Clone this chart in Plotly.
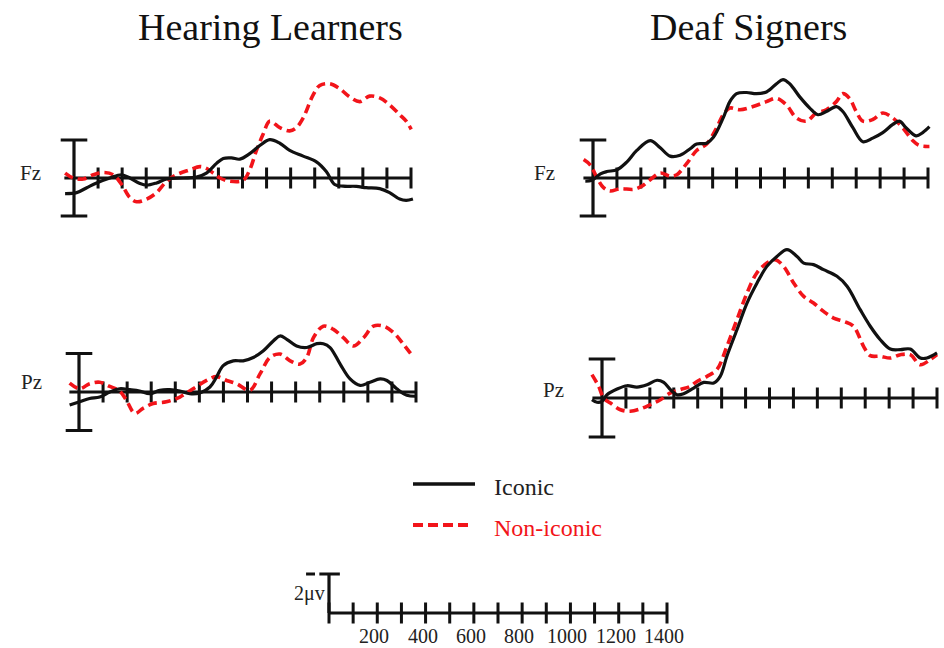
import plotly.graph_objects as go

# ---------------- waveform data: time (ms) and amplitude (µV) ----------------
# Hearing learners, Fz
HEAR_FZ_ICONIC_T = [-37, 11, 53, 94, 149, 198, 232, 274, 302, 343, 385, 454, 509, 550, 592, 620, 654, 689,
                    730, 772, 813, 855, 896, 952, 1007, 1048, 1083, 1118, 1173, 1214, 1270, 1311, 1353, 1380, 1408]
HEAR_FZ_ICONIC_V = [-0.82, -0.77, -0.51, -0.26, 0.0, 0.17, 0.0, -0.29, -0.38, -0.26, -0.05, 0.0, 0.05, 0.26,
                    0.77, 1.03, 1.06, 0.99, 1.28, 1.71, 2.02, 1.83, 1.45, 1.15, 0.85, 0.34, -0.34, -0.43, -0.44,
                    -0.51, -0.56, -0.77, -1.11, -1.18, -1.11]
HEAR_FZ_NONICONIC_T = [-37, -3, 39, 80, 122, 163, 198, 232, 260, 302, 343, 385, 426, 481, 523, 550, 578, 606,
                       647, 703, 730, 758, 786, 813, 855, 896, 924, 952, 993, 1021, 1062, 1104, 1145, 1187,
                       1228, 1270, 1311, 1353, 1380, 1401]
HEAR_FZ_NONICONIC_V = [0.26, 0.0, -0.05, 0.17, 0.29, 0.17, -0.34, -1.03, -1.25, -1.11, -0.77, -0.17, 0.17,
                       0.43, 0.60, 0.51, 0.26, 0.0, -0.17, -0.12, 0.43, 1.45, 2.31, 2.99, 2.65, 2.48, 2.65,
                       3.16, 4.36, 4.87, 4.96, 4.70, 4.27, 4.02, 4.31, 4.22, 3.85, 3.33, 2.99, 2.56]

# Deaf signers, Fz
DEAF_FZ_ICONIC_T = [-32, -4, 31, 58, 100, 142, 183, 239, 281, 322, 364, 406, 433, 475, 503, 544, 572, 600,
                    642, 683, 725, 767, 794, 822, 864, 906, 940, 975, 1017, 1044, 1086, 1128, 1169, 1211,
                    1253, 1281, 1308, 1350, 1378, 1406]
DEAF_FZ_ICONIC_V = [-0.17, -0.12, 0.22, 0.34, 0.43, 0.85, 1.45, 1.97, 1.59, 1.15, 1.20, 1.54, 1.79, 1.83,
                    2.14, 3.16, 4.02, 4.44, 4.50, 4.44, 4.53, 4.96, 5.18, 4.96, 4.27, 3.68, 3.33, 3.50, 3.76,
                    3.50, 2.65, 1.91, 2.10, 2.39, 2.82, 2.99, 2.65, 2.22, 2.39, 2.70]
DEAF_FZ_NONICONIC_T = [-39, -11, 17, 44, 72, 114, 169, 204, 239, 281, 322, 350, 392, 433, 475, 517, 544, 572,
                       614, 669, 725, 767, 808, 850, 892, 933, 975, 1017, 1044, 1072, 1100, 1128, 1169, 1211,
                       1253, 1294, 1336, 1364, 1406]
DEAF_FZ_NONICONIC_V = [0.97, 0.68, 0.0, -0.51, -0.68, -0.56, -0.60, -0.43, -0.09, 0.26, 0.09, 0.17, 0.77,
                       1.45, 1.79, 2.65, 3.33, 3.68, 3.59, 3.76, 4.02, 4.19, 3.85, 3.16, 2.99, 3.42, 3.59,
                       4.02, 4.44, 4.19, 3.50, 2.99, 3.08, 3.42, 3.16, 2.65, 1.97, 1.71, 1.66]

# Hearing learners, Pz
HEAR_PZ_ICONIC_T = [-39, 3, 44, 86, 128, 169, 211, 252, 294, 336, 377, 419, 460, 502, 544, 571, 599, 641,
                    682, 724, 766, 807, 835, 863, 904, 946, 988, 1015, 1043, 1085, 1126, 1168, 1209, 1251,
                    1279, 1320, 1362, 1401]
HEAR_PZ_ICONIC_V = [-0.68, -0.51, -0.34, -0.26, 0.0, 0.17, 0.12, 0.05, -0.09, 0.09, 0.12, 0.05, -0.09,
                    -0.05, 0.26, 0.77, 1.37, 1.62, 1.62, 1.79, 2.14, 2.65, 2.91, 2.74, 2.39, 2.31, 2.51,
                    2.51, 2.31, 1.45, 0.68, 0.34, 0.51, 0.68, 0.60, 0.17, -0.17, -0.22]
HEAR_PZ_NONICONIC_T = [-39, 3, 44, 86, 128, 169, 197, 232, 266, 308, 363, 419, 474, 530, 571, 613, 655, 710,
                       752, 793, 835, 877, 918, 946, 974, 1015, 1057, 1098, 1140, 1182, 1223, 1265, 1307,
                       1348, 1390]
HEAR_PZ_NONICONIC_V = [0.46, 0.17, 0.43, 0.51, 0.29, 0.05, -0.43, -1.11, -0.85, -0.60, -0.51, -0.26, 0.17,
                       0.60, 0.80, 0.60, 0.43, 0.09, 0.94, 1.79, 1.97, 1.62, 1.45, 1.79, 2.82, 3.42, 3.25,
                       2.82, 2.39, 2.82, 3.42, 3.42, 3.08, 2.48, 1.79]

# Deaf signers, Pz
DEAF_PZ_ICONIC_T = [-42, -21, 0, 21, 63, 104, 146, 188, 230, 258, 286, 313, 341, 383, 425, 467, 494, 522,
                    564, 606, 648, 689, 731, 773, 815, 843, 884, 926, 982, 1024, 1079, 1121, 1163, 1205,
                    1247, 1288, 1330, 1358, 1400]
DEAF_PZ_ICONIC_V = [-0.09, -0.22, -0.17, 0.17, 0.46, 0.63, 0.56, 0.68, 0.91, 0.80, 0.43, 0.17, 0.22, 0.51,
                    0.80, 0.77, 1.11, 2.14, 3.50, 4.87, 5.90, 6.75, 7.26, 7.61, 7.26, 6.92, 6.84, 6.58,
                    6.24, 5.73, 4.53, 3.68, 2.99, 2.51, 2.48, 2.51, 2.05, 2.05, 2.31]
DEAF_PZ_NONICONIC_T = [-42, -14, 7, 35, 77, 118, 160, 202, 244, 286, 327, 369, 397, 439, 480, 522, 564, 606,
                       647, 689, 724, 759, 801, 843, 884, 926, 968, 1010, 1051, 1093, 1121, 1163, 1205,
                       1247, 1288, 1330, 1372, 1400]
DEAF_PZ_NONICONIC_V = [1.20, 0.60, 0.0, -0.26, -0.60, -0.68, -0.56, -0.34, -0.09, 0.26, 0.43, 0.60, 0.85,
                       1.11, 1.45, 2.65, 4.02, 5.38, 6.41, 6.92, 7.09, 6.75, 5.90, 5.21, 4.87, 4.44, 4.10,
                       3.93, 3.68, 2.65, 2.17, 2.14, 2.05, 2.22, 2.22, 1.71, 1.97, 2.22]

# axis furniture
TICK_MS = list(range(0, 1401, 100))
SCALE_LABEL_MS = [200, 400, 600, 800, 1000, 1200, 1400]
SCALE_UV = 2
GROUP_TITLES = ["Hearing Learners", "Deaf Signers"]
CONDITIONS = ["Iconic", "Non-iconic"]

# ---------------- page geometry (pixels) ----------------
W, H = 944, 648
SERIF = "Liberation Serif, Times New Roman, serif"
BLACK = "#111111"
RED = "#f2141a"


def domains(origin, end, base, px_per_uv, xr, yr):
    k = (end - origin) / 1400.0
    x0 = (origin + xr[0] * k) / W
    x1 = (origin + xr[1] * k) / W
    ytop = base - yr[1] * px_per_uv
    ybot = base - yr[0] * px_per_uv
    return [x0, x1], [1 - ybot / H, 1 - ytop / H]


# each panel: axis suffix, data, origin px, 1400-ms px, baseline px, px per µV, y range, electrode label
panels = [
    ("", HEAR_FZ_ICONIC_T, HEAR_FZ_ICONIC_V, HEAR_FZ_NONICONIC_T, HEAR_FZ_NONICONIC_V,
     74, 411, 178, 19.0, (-2.6, 5.6), "Fz", (30, 173)),
    ("2", DEAF_FZ_ICONIC_T, DEAF_FZ_ICONIC_V, DEAF_FZ_NONICONIC_T, DEAF_FZ_NONICONIC_V,
     593, 928, 178, 19.0, (-2.6, 5.8), "Fz", (544, 173)),
    ("3", HEAR_PZ_ICONIC_T, HEAR_PZ_ICONIC_V, HEAR_PZ_NONICONIC_T, HEAR_PZ_NONICONIC_V,
     79, 416, 392, 19.25, (-2.6, 4.2), "Pz", (31, 382)),
    ("4", DEAF_PZ_ICONIC_T, DEAF_PZ_ICONIC_V, DEAF_PZ_NONICONIC_T, DEAF_PZ_NONICONIC_V,
     602, 937, 398, 19.5, (-2.5, 8.0), "Pz", (553, 390)),
]

fig = go.Figure()
layout_axes = {}
annotations = []
XR = (-60, 1420)

for suf, it, iv, nt, nv, origin, end, base, s, yr, elec, lab in panels:
    xd, yd = domains(origin, end, base, s, XR, yr)
    xa, ya = "x" + suf, "y" + suf
    layout_axes["xaxis" + suf] = dict(domain=xd, range=list(XR), visible=False, fixedrange=True)
    layout_axes["yaxis" + suf] = dict(domain=yd, range=list(yr), visible=False, fixedrange=True)

    # baseline with tick marks crossing it
    fig.add_trace(go.Scatter(x=[-40, 1400], y=[0, 0], mode="lines", xaxis=xa, yaxis=ya,
                             line=dict(color=BLACK, width=3.2), showlegend=False, hoverinfo="skip"))
    fig.add_trace(go.Scatter(x=TICK_MS[1:], y=[0] * (len(TICK_MS) - 1), mode="markers", xaxis=xa, yaxis=ya,
                             marker=dict(symbol="line-ns", size=15, line=dict(color=BLACK, width=3)),
                             showlegend=False, hoverinfo="skip"))
    # amplitude bar (±2 µV) with end caps
    fig.add_trace(go.Scatter(x=[0, 0], y=[-2, 2], mode="lines+markers", xaxis=xa, yaxis=ya,
                             line=dict(color=BLACK, width=3.2),
                             marker=dict(symbol="line-ew", size=19, line=dict(color=BLACK, width=3)),
                             showlegend=False, hoverinfo="skip"))
    # waveforms
    fig.add_trace(go.Scatter(x=nt, y=nv, mode="lines", xaxis=xa, yaxis=ya, name=CONDITIONS[1],
                             line=dict(color=RED, width=3.6, dash="9px,5px", shape="spline", smoothing=1.0),
                             showlegend=False))
    fig.add_trace(go.Scatter(x=it, y=iv, mode="lines", xaxis=xa, yaxis=ya, name=CONDITIONS[0],
                             line=dict(color=BLACK, width=3.2, shape="spline", smoothing=1.0),
                             showlegend=False))
    annotations.append(dict(text=elec, x=lab[0] / W, y=1 - lab[1] / H, xref="paper", yref="paper",
                            showarrow=False, xanchor="center", yanchor="middle",
                            font=dict(family=SERIF, size=21, color="#222222")))

# ---------------- calibration bar ----------------
SXR = (-110, 1420)
xd, yd = domains(329, 667, 613, 19.5, SXR, (-1.0, 2.6))
layout_axes["xaxis5"] = dict(domain=xd, range=list(SXR), visible=False, fixedrange=True)
layout_axes["yaxis5"] = dict(domain=yd, range=[-1.0, 2.6], visible=False, fixedrange=True)
fig.add_trace(go.Scatter(x=[0, 1400], y=[0, 0], mode="lines", xaxis="x5", yaxis="y5",
                         line=dict(color=BLACK, width=3.2), showlegend=False, hoverinfo="skip"))
fig.add_trace(go.Scatter(x=TICK_MS, y=[0] * len(TICK_MS), mode="markers", xaxis="x5", yaxis="y5",
                         marker=dict(symbol="line-ns", size=15, line=dict(color=BLACK, width=3)),
                         showlegend=False, hoverinfo="skip"))
fig.add_trace(go.Scatter(x=[0, 0], y=[0, SCALE_UV], mode="lines", xaxis="x5", yaxis="y5",
                         line=dict(color=BLACK, width=3.2), showlegend=False, hoverinfo="skip"))
fig.add_trace(go.Scatter(x=[-40, 45], y=[SCALE_UV, SCALE_UV], mode="lines", xaxis="x5", yaxis="y5",
                         line=dict(color=BLACK, width=3), showlegend=False, hoverinfo="skip"))
fig.add_trace(go.Scatter(x=[-95, -58], y=[SCALE_UV, SCALE_UV], mode="lines", xaxis="x5", yaxis="y5",
                         line=dict(color=BLACK, width=3), showlegend=False, hoverinfo="skip"))
for ms in SCALE_LABEL_MS:
    annotations.append(dict(text=str(ms), x=ms, y=0, xref="x5", yref="y5", yshift=-23, xshift=-3,
                            showarrow=False, xanchor="center", yanchor="middle",
                            font=dict(family=SERIF, size=20, color="#222222")))
annotations.append(dict(text="2\u03bcv", x=0, y=SCALE_UV / 2, xref="x5", yref="y5", xshift=-2,
                        showarrow=False, xanchor="right", yanchor="middle",
                        font=dict(family=SERIF, size=20, color="#222222")))

# ---------------- group titles ----------------
for title, cx in zip(GROUP_TITLES, (270, 748)):
    annotations.append(dict(text=title, x=cx / W, y=1 - 27 / H, xref="paper", yref="paper",
                            showarrow=False, xanchor="center", yanchor="middle",
                            font=dict(family=SERIF, size=38, color=BLACK)))

# ---------------- legend ----------------
shapes = [
    dict(type="line", xref="paper", yref="paper", x0=413 / W, x1=475 / W, y0=1 - 484 / H, y1=1 - 484 / H,
         line=dict(color=BLACK, width=3.5)),
    dict(type="line", xref="paper", yref="paper", x0=413 / W, x1=471 / W, y0=1 - 525 / H, y1=1 - 525 / H,
         line=dict(color=RED, width=4, dash="10px,5px")),
]
annotations.append(dict(text=CONDITIONS[0], x=492 / W, y=1 - 487 / H, xref="paper", yref="paper",
                        showarrow=False, xanchor="left", yanchor="middle",
                        font=dict(family=SERIF, size=24, color="#222222")))
annotations.append(dict(text=CONDITIONS[1], x=492 / W, y=1 - 528 / H, xref="paper", yref="paper",
                        showarrow=False, xanchor="left", yanchor="middle",
                        font=dict(family=SERIF, size=24, color=RED)))

fig.update_layout(
    width=W, height=H, margin=dict(l=0, r=0, t=0, b=0),
    paper_bgcolor="white", plot_bgcolor="rgba(0,0,0,0)",
    showlegend=False, annotations=annotations, shapes=shapes,
    **layout_axes,
)

fig.write_html("out.html")
